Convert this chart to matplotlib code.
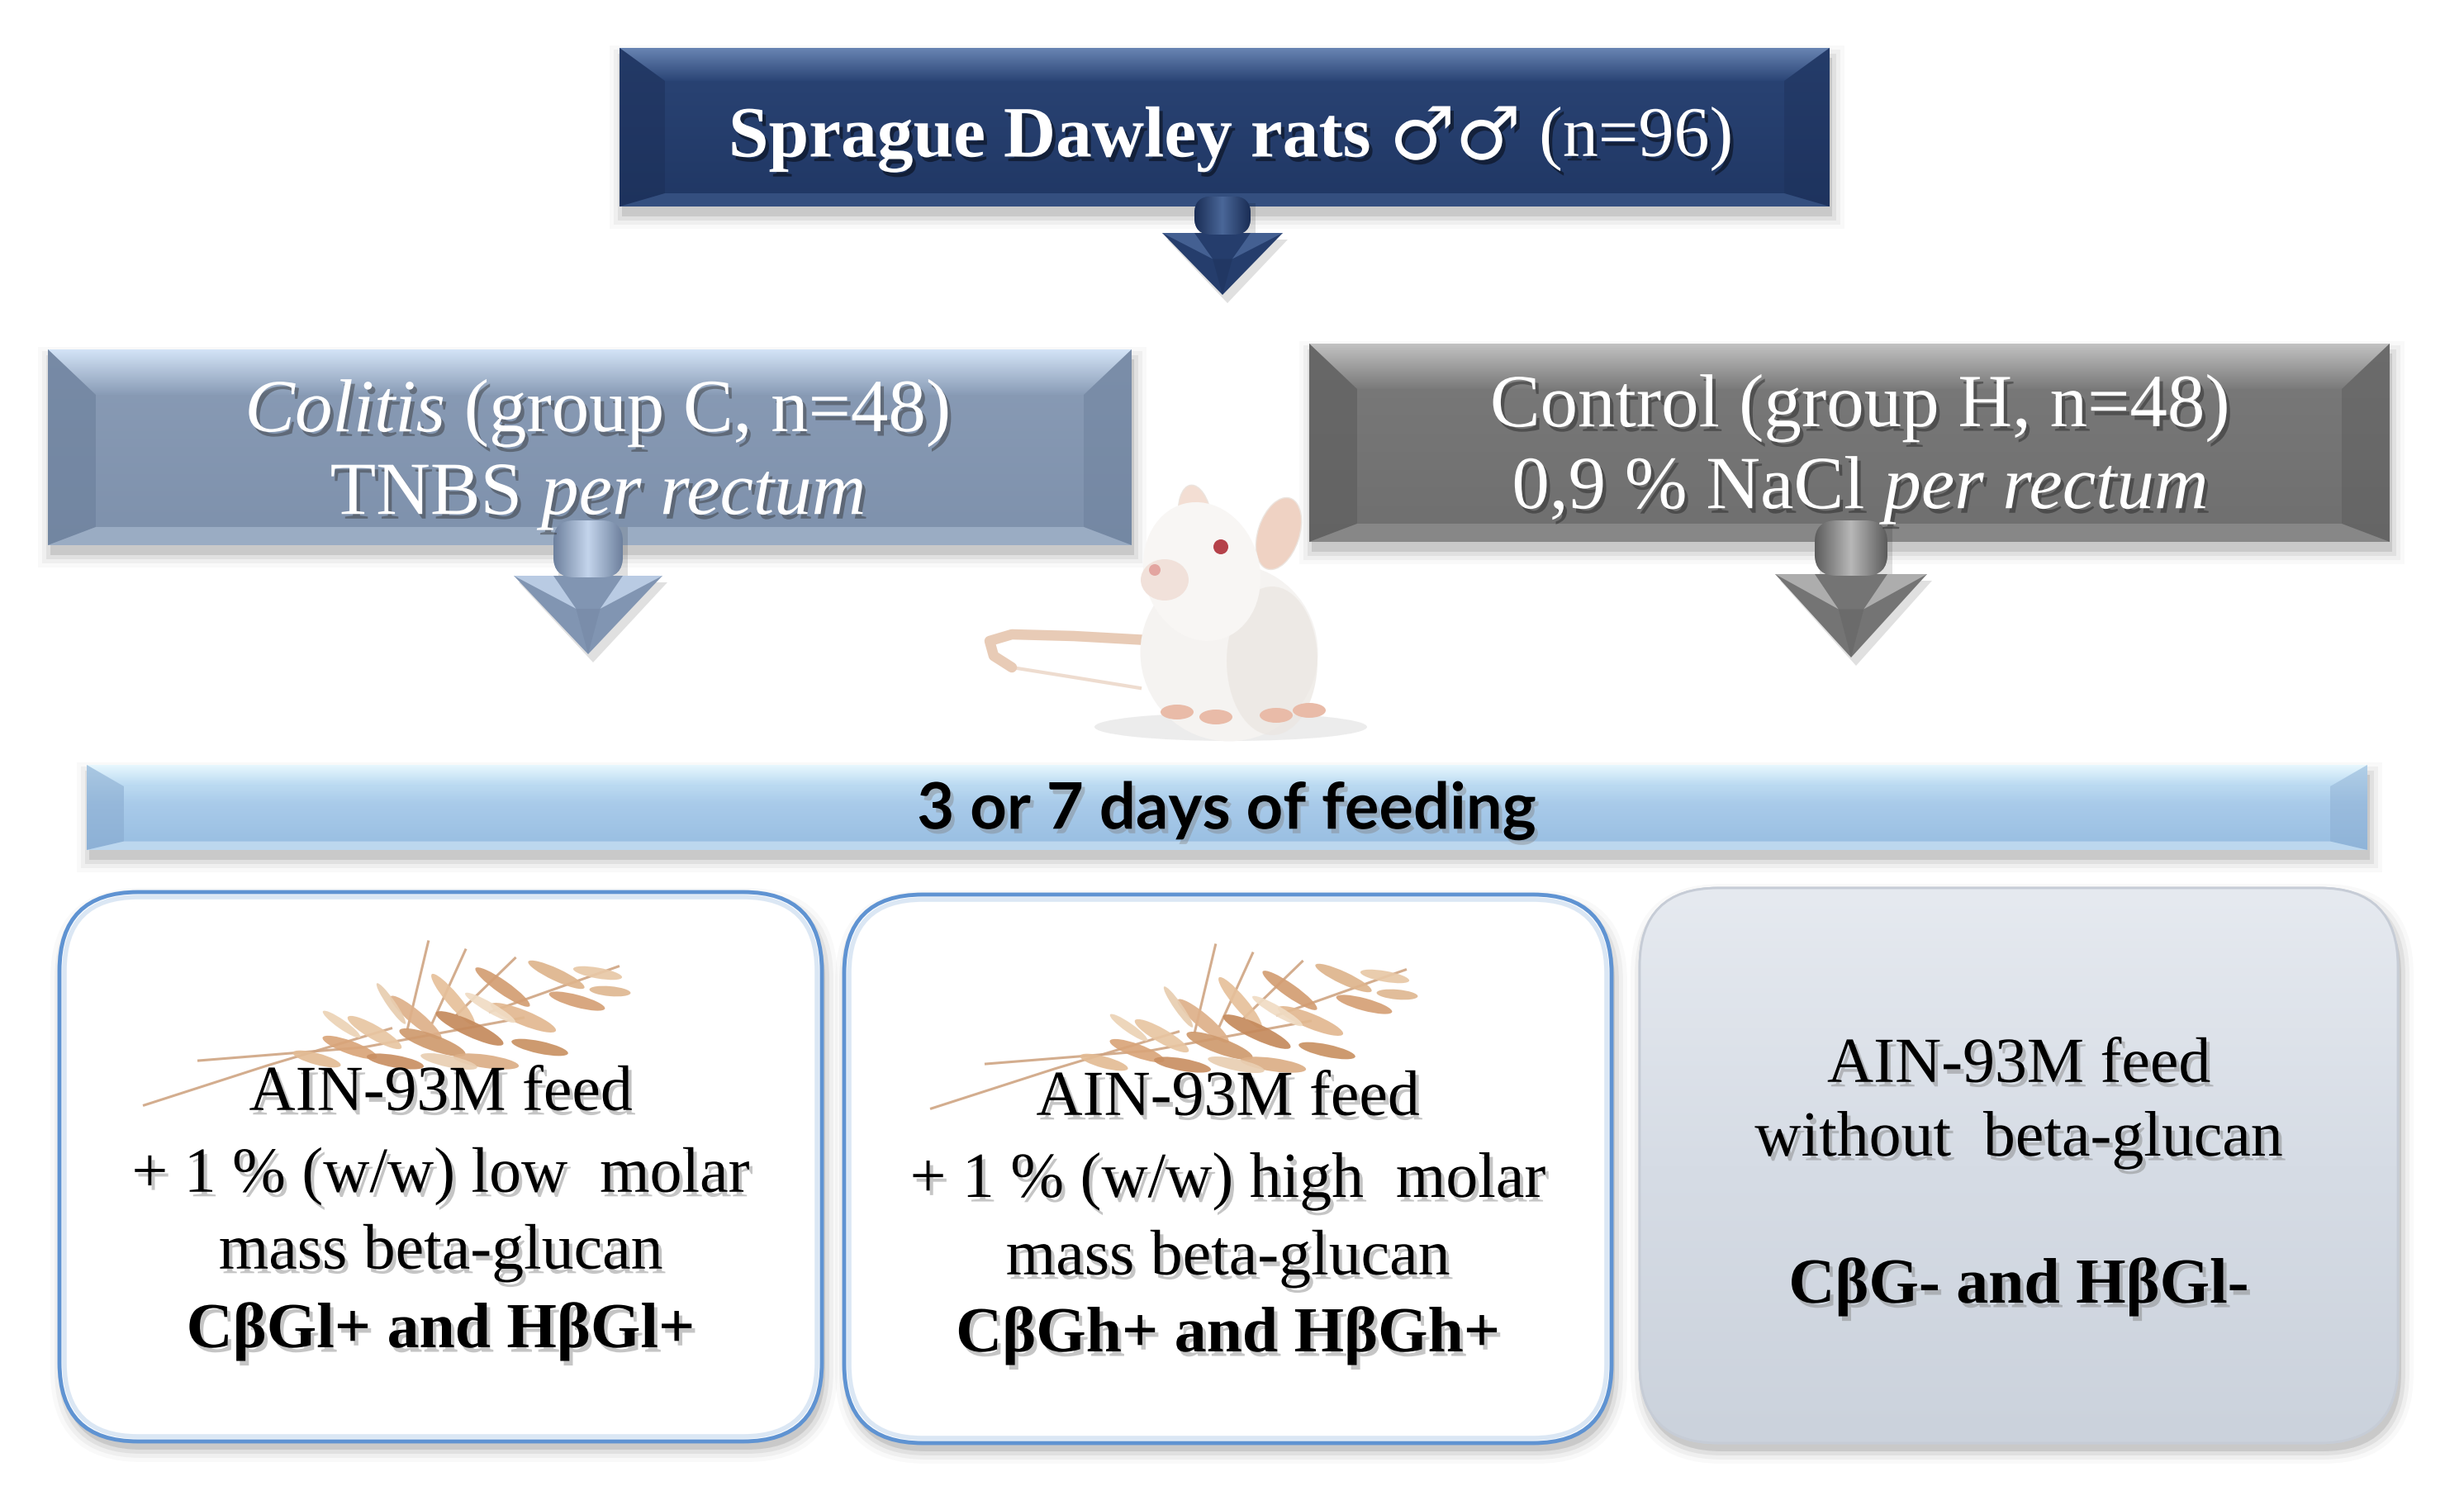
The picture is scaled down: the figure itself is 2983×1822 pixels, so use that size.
import numpy as np
import matplotlib
matplotlib.use("Agg")
import matplotlib.pyplot as plt
import matplotlib.colors as mcolors
import matplotlib.patheffects as pe
from matplotlib.patches import Rectangle, Polygon, FancyBboxPatch, Ellipse, Circle

SERIF = ["Liberation Serif", "DejaVu Sans"]
SYMB = ["DejaVu Sans"]

# ---------------- content ----------------
title_parts = [("Sprague Dawley rats", "normal", "bold", 63, SERIF),
               ("\u2642\u2642", "normal", "normal", 64, SYMB),
               ("(n=96)", "normal", "normal", 62, SERIF)]
colitis_lines = [[("Colitis", "italic", "normal", 65.5, SERIF), ("(group C, n=48)", "normal", "normal", 65.5, SERIF)],
                 [("TNBS", "normal", "normal", 65.5, SERIF), ("per rectum", "italic", "normal", 65.5, SERIF)]]
control_lines = [[("Control", "normal", "normal", 65.5, SERIF), ("(group H, n=48)", "normal", "normal", 65.5, SERIF)],
                 [("0,9 % NaCl", "normal", "normal", 65.5, SERIF), ("per rectum", "italic", "normal", 65.5, SERIF)]]
banner_text = "3 or 7 days of feeding"
diet_lines = [
    ["AIN-93M feed", "+ 1 % (w/w) low  molar", "mass beta-glucan", "C\u03b2Gl+ and H\u03b2Gl+"],
    ["AIN-93M feed", "+ 1 % (w/w) high  molar", "mass beta-glucan", "C\u03b2Gh+ and H\u03b2Gh+"],
    ["AIN-93M feed", "without  beta-glucan", "C\u03b2G- and H\u03b2Gl-"],
]
diet_bold = [[False, False, False, True], [False, False, False, True], [False, False, True]]

# ---------------- canvas ----------------
W, H = 2983, 1822
fig = plt.figure(figsize=(W / 100, H / 100), dpi=100)
ax = fig.add_axes([0, 0, 1, 1])
ax.set_xlim(0, W)
ax.set_ylim(H, 0)
ax.axis("off")
renderer = fig.canvas.get_renderer()


def grad(x0, y0, x1, y1, stops, clip, z, horizontal=False):
    n = 256
    t = np.linspace(0, 1, n)
    pos = [s[0] for s in stops]
    cols = np.array([mcolors.to_rgb(s[1]) for s in stops])
    rgb = np.stack([np.interp(t, pos, cols[:, k]) for k in range(3)], axis=-1)
    img = rgb[None, :, :] if horizontal else rgb[:, None, :]
    im = ax.imshow(img, extent=(x0, x1, y1, y0), origin="upper", aspect="auto",
                   zorder=z, interpolation="bilinear")
    im.set_clip_path(clip)


def shadow_rect(x0, y0, x1, y1, z, dy=12, rounding=None):
    for e, a in [(0, 0.10), (5, 0.06), (10, 0.04), (15, 0.025)]:
        if rounding is None:
            p = Rectangle((x0 - e + 3, y0 - e + dy), x1 - x0 + 2 * e, y1 - y0 + 2 * e,
                          fc="black", ec="none", alpha=a, zorder=z)
        else:
            p = FancyBboxPatch((x0 - e + 4, y0 - e + dy), x1 - x0 + 2 * e, y1 - y0 + 2 * e,
                               boxstyle=f"round,pad=0,rounding_size={rounding + e}",
                               fc="black", ec="none", alpha=a, zorder=z)
        ax.add_patch(p)


def bevel_box(x0, y0, x1, y1, main, top, side, bottom, bx, by, z, side_alpha=0.75):
    shadow_rect(x0, y0, x1, y1, z - 1)
    r = Rectangle((x0, y0), x1 - x0, y1 - y0, fc=main[-1][1], ec="none", zorder=z)
    ax.add_patch(r)
    grad(x0, y0, x1, y1, main, r, z + 0.1)
    tp = Polygon([(x0, y0), (x1, y0), (x1 - bx, y0 + by), (x0 + bx, y0 + by)],
                 closed=True, fc="none", ec="none", transform=ax.transData)
    grad(x0, y0, x1, y0 + by, top, tp, z + 0.2)
    ax.add_patch(Polygon([(x0, y0), (x0 + bx, y0 + by), (x0 + bx, y1 - by * 0.4), (x0, y1)],
                         closed=True, fc=side, ec="none", alpha=side_alpha, zorder=z + 0.3))
    ax.add_patch(Polygon([(x1, y0), (x1 - bx, y0 + by), (x1 - bx, y1 - by * 0.4), (x1, y1)],
                         closed=True, fc=side, ec="none", alpha=side_alpha * 0.8, zorder=z + 0.3))
    ax.add_patch(Polygon([(x0, y1), (x0 + bx, y1 - by * 0.4), (x1 - bx, y1 - by * 0.4), (x1, y1)],
                         closed=True, fc=bottom, ec="none", alpha=0.8, zorder=z + 0.3))


def down_arrow(cx, y_top, y_head, y_tip, sw, hw, base, light, dark, z):
    ax.add_patch(Polygon([(cx - sw + 6, y_top + 8), (cx + sw + 6, y_top + 8), (cx + sw + 6, y_head + 8),
                          (cx + hw + 6, y_head + 8), (cx + 6, y_tip + 10), (cx - hw + 6, y_head + 8),
                          (cx - sw + 6, y_head + 8)], closed=True, fc="black", alpha=0.12,
                         ec="none", zorder=z - 0.5))
    shaft = FancyBboxPatch((cx - sw, y_top), 2 * sw, y_head - y_top + 2,
                           boxstyle=f"round,pad=0,rounding_size={sw * 0.6}", fc=base, ec="none",
                           zorder=z)
    ax.add_patch(shaft)
    grad(cx - sw, y_top, cx + sw, y_head + 2, [(0, dark), (0.5, light), (1, dark)], shaft, z + 0.1,
         horizontal=True)
    ax.add_patch(Polygon([(cx - hw, y_head), (cx + hw, y_head), (cx, y_tip)], closed=True,
                         fc=base, ec="none", zorder=z))
    hy = y_head + (y_tip - y_head) * 0.42
    ax.add_patch(Polygon([(cx - hw, y_head), (cx - sw, y_head), (cx - sw * 0.35, hy)],
                         closed=True, fc=light, ec="none", alpha=0.85, zorder=z + 0.2))
    ax.add_patch(Polygon([(cx + hw, y_head), (cx + sw, y_head), (cx + sw * 0.35, hy)],
                         closed=True, fc=light, ec="none", alpha=0.85, zorder=z + 0.2))
    ax.add_patch(Polygon([(cx - sw * 0.35, hy), (cx + sw * 0.35, hy), (cx, y_tip)],
                         closed=True, fc=dark, ec="none", alpha=0.35, zorder=z + 0.2))


def rich(cx, cy, parts, color, shadow_col, z=20):
    objs = []
    fx = [pe.withSimplePatchShadow(offset=(3, -4), shadow_rgbFace=shadow_col, alpha=0.45)]
    for s, st, wt, sz, fam in parts:
        t = ax.text(0, cy, s, fontsize=sz, fontstyle=st, fontweight=wt, family=fam,
                    color=color, ha="left", va="center", zorder=z, path_effects=fx)
        objs.append(t)
    sz0, fam0 = parts[0][3], parts[0][4]
    t1 = ax.text(0, 0, "n n", fontsize=sz0, family=fam0)
    t2 = ax.text(0, 0, "nn", fontsize=sz0, family=fam0)
    space = t1.get_window_extent(renderer).width - t2.get_window_extent(renderer).width
    t1.remove(); t2.remove()
    widths = [o.get_window_extent(renderer).width for o in objs]
    total = sum(widths) + space * (len(objs) - 1)
    x = cx - total / 2
    for o, w in zip(objs, widths):
        o.set_x(x)
        x += w + space


# ---------------- top box ----------------
bevel_box(750, 58, 2215, 250,
          [(0, "#2b4576"), (1, "#203764")], [(0, "#6985b3"), (1, "#2b4576")],
          "#1b2d55", "#3a5686", 55, 40, z=5, side_alpha=0.45)
down_arrow(1480, 238, 282, 357, 34, 73, "#253d6c", "#4a6799", "#1a2d55", z=7)
rich(1490, 168, title_parts, "white", "black")

# ---------------- group boxes ----------------
bevel_box(58, 423, 1370, 660,
          [(0, "#8a9cb6"), (1, "#7e91ac")], [(0, "#d4e4f7"), (1, "#899cb6")],
          "#6b7f9b", "#a2b3ca", 58, 55, z=5, side_alpha=0.6)
bevel_box(1585, 416, 2893, 656,
          [(0, "#7a7a7a"), (1, "#6f6f6f")], [(0, "#c2c2c2"), (1, "#7a7a7a")],
          "#5c5c5c", "#8e8e8e", 58, 55, z=5, side_alpha=0.6)
down_arrow(712, 630, 697, 792, 42, 90, "#8195b2", "#c4d5ec", "#6d809d", z=7)
down_arrow(2241, 630, 695, 796, 44, 92, "#747474", "#b8b8b8", "#5c5c5c", z=7)
rich(724, 500, colitis_lines[0], "white", "#333333")
rich(724, 600, colitis_lines[1], "white", "#333333")
rich(2252, 494, control_lines[0], "white", "#222222")
rich(2252, 593, control_lines[1], "white", "#222222")

# ---------------- rat (stylised) ----------------
ax.add_patch(Ellipse((1490, 880), 330, 34, fc="#ececec", ec="none", zorder=3))
ax.plot([1390, 1300, 1225, 1198, 1203, 1225], [775, 770, 768, 776, 794, 808],
        color="#e8cbb6", lw=9, solid_capstyle="round", zorder=3.5)
ax.plot([1225, 1300, 1380], [808, 820, 833], color="#eedccf", lw=3, zorder=3.4)
ax.add_patch(Ellipse((1488, 790), 215, 215, fc="#f5f3f1", ec="none", zorder=4))
ax.add_patch(Ellipse((1540, 800), 110, 180, fc="#ebe6e1", ec="none", alpha=0.7, zorder=4.1))
ax.add_patch(Ellipse((1455, 692), 140, 170, angle=-15, fc="#f8f6f4", ec="none", zorder=4.2))
ax.add_patch(Ellipse((1410, 702), 58, 50, fc="#f1e1da", ec="none", zorder=4.3))
ax.add_patch(Ellipse((1447, 628), 40, 82, angle=-8, fc="#f3ded3", ec="#ece4de", zorder=4.0))
ax.add_patch(Ellipse((1548, 646), 50, 90, angle=18, fc="#efd2c3", ec="#ece4de", zorder=4.0))
ax.add_patch(Circle((1478, 662), 9, fc="#b5424a", ec="none", zorder=4.5))
ax.add_patch(Circle((1398, 690), 7, fc="#e3a5a0", ec="none", zorder=4.5))
for fx_, fy_ in [(1425, 862), (1472, 868), (1545, 866), (1585, 860)]:
    ax.add_patch(Ellipse((fx_, fy_), 40, 18, fc="#e9bba8", ec="none", zorder=4.6))

# ---------------- banner ----------------
bevel_box(105, 926, 2866, 1029,
          [(0, "#d2ecfa"), (0.45, "#a9cbea"), (1, "#97bde1")], [(0, "#e8f8fe"), (1, "#b8d8f1")],
          "#84a6cc", "#c6def2", 45, 26, z=5, side_alpha=0.5)
ax.text(1485, 982, banner_text, fontsize=56, family=["Lato", "DejaVu Sans"], fontweight="bold",
        color="black", ha="center", va="center", zorder=20,
        path_effects=[pe.withSimplePatchShadow(offset=(3, -4), shadow_rgbFace="gray", alpha=0.4)])

# ---------------- diet boxes ----------------
boxes = [(72, 1080, 995, 1745), (1022, 1083, 1951, 1747), (1985, 1075, 2903, 1747)]
line_y = [[1325, 1424, 1517, 1612], [1331, 1430, 1524, 1617], [1291, 1380, 1558]]
R = 95
for i, (x0, y0, x1, y1) in enumerate(boxes):
    shadow_rect(x0, y0, x1, y1, 4, dy=10, rounding=R)
    if i < 2:
        p = FancyBboxPatch((x0, y0), x1 - x0, y1 - y0, boxstyle=f"round,pad=0,rounding_size={R}",
                           fc="white", ec="#5f93d2", lw=3.5, zorder=5)
        ax.add_patch(p)
        ax.add_patch(FancyBboxPatch((x0 + 6, y0 + 6), x1 - x0 - 12, y1 - y0 - 12,
                                    boxstyle=f"round,pad=0,rounding_size={R - 6}",
                                    fc="none", ec="#dbe7f4", lw=4, zorder=5.2))
    else:
        p = FancyBboxPatch((x0, y0), x1 - x0, y1 - y0, boxstyle=f"round,pad=0,rounding_size={R}",
                           fc="#d5dbe4", ec="#c9cfd9", lw=2, zorder=5)
        ax.add_patch(p)
        grad(x0, y0, x1, y1, [(0, "#e6eaf0"), (0.5, "#d6dce5"), (1, "#cbd2dc")], p, 5.1)
        ax.add_patch(FancyBboxPatch((x0, y0), x1 - x0, y1 - y0,
                                    boxstyle=f"round,pad=0,rounding_size={R}",
                                    fc="none", ec="#c6ccd6", lw=2, zorder=5.3))

# wheat (decorative) in the first two boxes
grains = [(-150, 1282, 60, 14, 15, "#e3bc95"), (-110, 1268, 70, 16, 20, "#d9a57a"),
          (-80, 1250, 75, 17, 30, "#e8c6a2"), (-55, 1285, 70, 15, 10, "#c98f63"),
          (-30, 1232, 80, 17, 40, "#deb089"), (-10, 1262, 85, 19, 20, "#cf9a6e"),
          (15, 1210, 80, 16, 50, "#e6c09a"), (35, 1245, 90, 19, 25, "#c58a5c"),
          (55, 1285, 80, 16, 8, "#dcae86"), (75, 1195, 80, 16, 35, "#d39d72"),
          (100, 1232, 85, 18, 22, "#e2b890"), (120, 1268, 70, 15, 12, "#c99263"),
          (140, 1180, 75, 15, 25, "#deb48c"), (165, 1212, 70, 15, 15, "#d5a075"),
          (190, 1178, 60, 13, 10, "#e8c8a6"), (205, 1200, 50, 12, 5, "#dfb892"),
          (-60, 1215, 60, 10, 55, "#e8cdb0"), (10, 1285, 70, 14, 12, "#e9cfb2"),
          (60, 1220, 70, 12, 30, "#f0dcc4"), (-120, 1240, 55, 11, 35, "#ecd3b6")]
stalks = [[(-359, 1338), (-210, 1290), (-60, 1245)], [(-293, 1284), (-94, 1268), (100, 1232)],
          [(-40, 1245), (-15, 1140)], [(-10, 1238), (30, 1150)], [(20, 1228), (90, 1160)],
          [(60, 1225), (215, 1170)]]
for bi, dyoff in [(0, 0), (1, 4)]:
    cx = (boxes[bi][0] + boxes[bi][2]) / 2
    for st in stalks:
        ax.plot([cx + p[0] for p in st], [p[1] + dyoff for p in st], color="#cfa482", lw=2.2,
                alpha=0.9, zorder=6)
    for dx, gy, L, Wd, ang, col in grains:
        ax.add_patch(Ellipse((cx + dx, gy + dyoff), L, Wd, angle=ang, fc=col, ec="none",
                             alpha=0.92, zorder=6.2))

for i, (x0, y0, x1, y1) in enumerate(boxes):
    cx = (x0 + x1) / 2
    for txt, yy, bold in zip(diet_lines[i], line_y[i], diet_bold[i]):
        ax.text(cx, yy, txt, fontsize=56, family=SERIF, fontweight="bold" if bold else "normal",
                color="black", ha="center", va="center", zorder=20,
                path_effects=[pe.withSimplePatchShadow(offset=(3, -4), shadow_rgbFace="gray",
                                                       alpha=0.45)])

ax.set_xlim(0, W)
ax.set_ylim(H, 0)
ax.set_aspect("auto")
fig.savefig("out.png", dpi=100, facecolor="white")
